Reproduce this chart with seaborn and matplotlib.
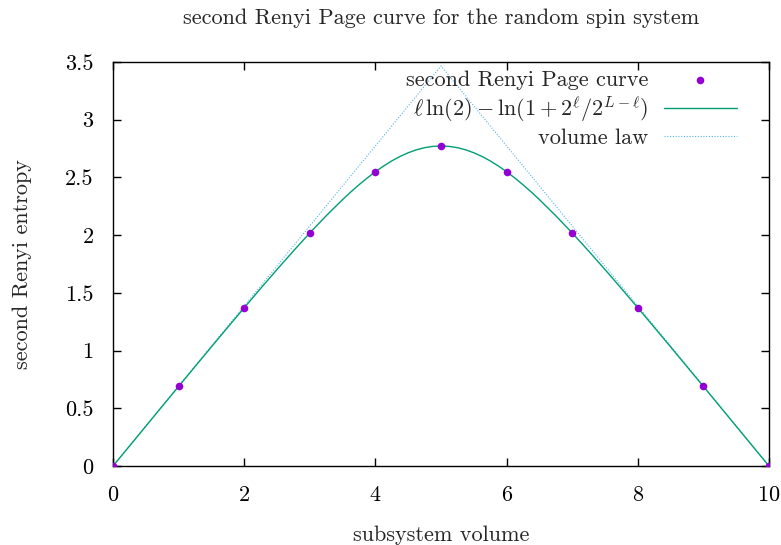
import matplotlib
matplotlib.use("Agg")
import matplotlib.pyplot as plt
import seaborn as sns

# subsystem volume and measured second Renyi entropy
volume = [0, 1, 2, 3, 4, 5, 6, 7, 8, 9, 10]
renyi = [0.0, 0.69, 1.37, 2.02, 2.55, 2.77, 2.55, 2.02, 1.37, 0.69, 0.0]

# analytic curve l*ln(2) - ln(1 + 2^l / 2^(L-l)), L = 10
curve_x = [0, 0.25, 0.5, 0.75, 1, 1.25, 1.5, 1.75, 2, 2.25, 2.5, 2.75, 3,
           3.25, 3.5, 3.625, 3.75, 3.875, 4, 4.125, 4.25, 4.375, 4.5, 4.625,
           4.75, 4.875, 5,
           5.125, 5.25, 5.375, 5.5, 5.625, 5.75, 5.875, 6, 6.125, 6.25,
           6.375, 6.5, 6.75, 7, 7.25, 7.5, 7.75, 8, 8.25, 8.5, 8.75, 9,
           9.25, 9.5, 9.75, 10]
curve_y = [0.0, 0.1719, 0.3446, 0.5171, 0.6893, 0.8609, 1.0319, 1.2020,
           1.3708, 1.5377, 1.7021, 1.8629, 2.0188, 2.1680, 2.3082, 2.3741,
           2.4365, 2.4951, 2.5495, 2.5989, 2.6432, 2.6816, 2.7137, 2.7392,
           2.7577, 2.7688, 2.7726,
           2.7688, 2.7577, 2.7392, 2.7137, 2.6816, 2.6432, 2.5989, 2.5495,
           2.4951, 2.4365, 2.3741, 2.3082, 2.1680, 2.0188, 1.8629, 1.7021,
           1.5377, 1.3708, 1.2020, 1.0319, 0.8609, 0.6893, 0.5171, 0.3446,
           0.1719, 0.0]

# volume law
law_x = [0, 5, 10]
law_y = [0.0, 3.466, 0.0]

sns.set_style("ticks")
plt.rcParams["font.family"] = ["cmr10", "DejaVu Serif"]
plt.rcParams["mathtext.fontset"] = "cm"
plt.rcParams["axes.formatter.use_mathtext"] = True
plt.rcParams["axes.unicode_minus"] = False

fig = plt.figure(figsize=(7.81, 5.45), dpi=100)
ax = fig.add_axes([113 / 781, 1 - 466 / 545, (769 - 113) / 781, (466 - 62) / 545])

sns.scatterplot(x=volume, y=renyi, ax=ax, color="#9400D3", s=30, linewidth=0,
                label="second Renyi Page curve", zorder=5)
sns.lineplot(x=curve_x, y=curve_y, ax=ax, color="#009E73", linewidth=1.0,
             label=r"$\ell\,\ln(2)-\ln(1+2^{\ell}/2^{L-\ell})$", zorder=4)
sns.lineplot(x=law_x, y=law_y, ax=ax, color="#56B4E9", linewidth=0.8,
             linestyle=(0, (1, 1.5)), label="volume law", zorder=3)

ax.set_xlim(0, 10)
ax.set_ylim(0, 3.5)
ax.set_xticks([0, 2, 4, 6, 8, 10])
ax.set_yticks([0, 0.5, 1, 1.5, 2, 2.5, 3, 3.5])
ax.set_yticklabels(["0", "0.5", "1", "1.5", "2", "2.5", "3", "3.5"])
ax.tick_params(direction="in", top=True, right=True, length=6, width=1,
               labelsize=16, pad=14, colors="black")
for s in ax.spines.values():
    s.set_linewidth(1.0)
    s.set_color("black")

ax.set_title("second Renyi Page curve for the random spin system",
             fontsize=16, pad=27)
ax.set_xlabel("subsystem volume", fontsize=16, labelpad=15)
ax.set_ylabel("second Renyi entropy", fontsize=16, labelpad=24)

ax.legend(loc="upper right", frameon=False, markerfirst=False, fontsize=16,
          handlelength=3.3, handletextpad=0.7, borderaxespad=0.2,
          labelspacing=0.2, bbox_to_anchor=(0.9715, 1.012))
for t in ax.get_legend().get_texts():
    t.set_ha("right")

fig.savefig("out.png", dpi=100)
